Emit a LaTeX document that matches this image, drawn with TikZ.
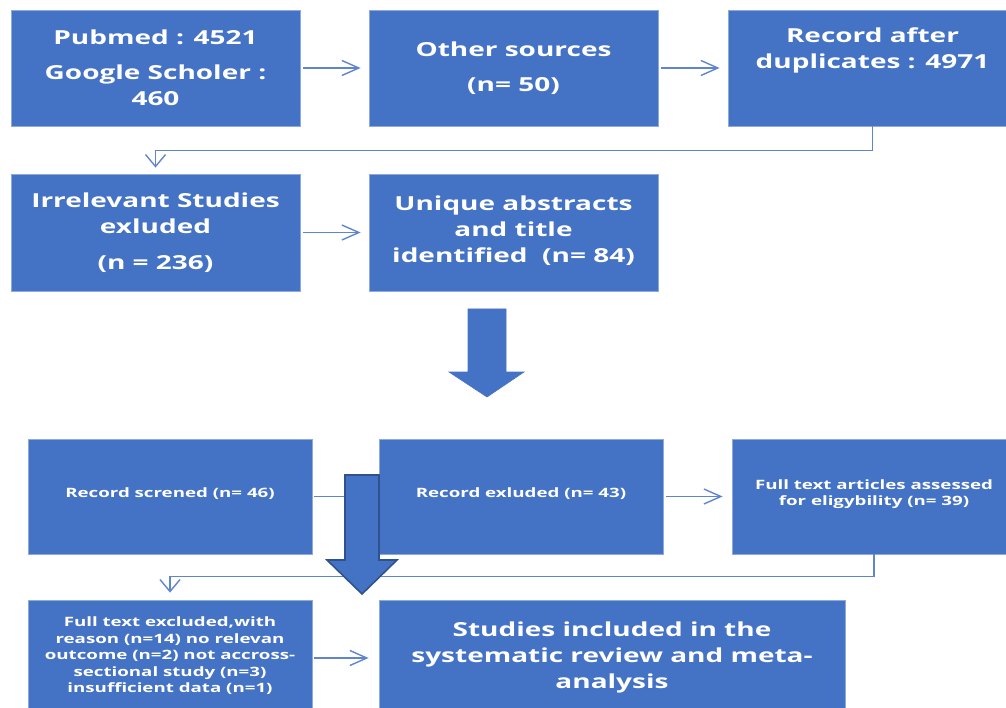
\documentclass[tikz,border=0pt]{standalone}
\usepackage{fontspec}
\usetikzlibrary{arrows.meta}
\newfontfamily\bx{Open Sans Bold}[FakeStretch=1.45]
\definecolor{boxblue}{HTML}{4472C4}
\definecolor{edgeblue}{HTML}{8EA9DB}
\definecolor{linkblue}{HTML}{5F86CC}
\definecolor{darkblue}{HTML}{2F528F}
\tikzset{
  boxstyle/.style={draw=edgeblue, fill=boxblue, line width=0.8pt, inner sep=0pt},
  bigtxt/.style={text=white, font=\bx\fontsize{19.3}{26}\selectfont, align=center, inner sep=0pt},
  smalltxt/.style={text=white, font=\bx\fontsize{12.9}{16.5}\selectfont, align=center, inner sep=0pt},
  harrow/.style={draw=linkblue, line width=1.4pt, -{Straight Barb[length=17pt,width=15pt,line width=1.4pt]}},
  varrow/.style={draw=linkblue, line width=1.4pt, -{Straight Barb[length=12pt,width=20pt,line width=1.4pt]}},
  blockarrow/.style={fill=boxblue, draw=boxblue, line width=0.6pt, line join=miter},
  blockarrowdark/.style={fill=boxblue, draw=darkblue, line width=1.6pt, line join=miter}
}
\begin{document}
\begin{tikzpicture}[x=1pt,y=-1pt]
\useasboundingbox (0,0) rectangle (1006,708);
% boxes
\node[boxstyle, minimum width=289pt, minimum height=116pt] (A) at (155.5,68) {};
\node[boxstyle, minimum width=289pt, minimum height=116pt] (B) at (513.5,68) {};
\node[boxstyle, minimum width=289pt, minimum height=116pt] (C) at (872.5,68) {};
\node[boxstyle, minimum width=289pt, minimum height=117pt] (D) at (155.5,232.5) {};
\node[boxstyle, minimum width=289pt, minimum height=117pt] (E) at (513.5,232.5) {};
\node[boxstyle, minimum width=284pt, minimum height=115pt] (F) at (170,496.5) {};
\node[boxstyle, minimum width=284pt, minimum height=115pt] (G) at (521,496.5) {};
\node[boxstyle, minimum width=284pt, minimum height=115pt] (H) at (874,496.5) {};
\node[boxstyle, minimum width=284pt, minimum height=116pt] (I) at (170,658) {};
\node[boxstyle, minimum width=466pt, minimum height=116pt] (J) at (612,658) {};
% texts
\node[bigtxt] (tA) at (155.5,67.5) {Pubmed : 4521\\[9pt]Google Scholer :\\460};
\node[bigtxt] (tB) at (513.5,68) {Other sources\\[9pt](n= 50)};
\node[bigtxt] (tC) at (872.5,50) {Record after\\duplicates : 4971};
\node[bigtxt] (tD) at (155.5,232.5) {Irrelevant Studies\\exluded\\[10pt](n = 236)};
\node[bigtxt] (tE) at (513.5,231) {Unique abstracts\\and title\\identified\ \ (n= 84)};
\node[smalltxt] (tF) at (170,494) {Record screned (n= 46)};
\node[smalltxt] (tG) at (521,494) {Record exluded (n= 43)};
\node[smalltxt] (tH) at (874,494) {Full text articles assessed\\for eligybility (n= 39)};
\node[smalltxt] (tI) at (170,656) {Full text excluded,with\\reason (n=14) no relevan\\outcome (n=2) not accross-\\sectional study (n=3)\\insufficient data (n=1)};
\node[bigtxt] (tJ) at (612,657) {Studies included in the\\systematic review and meta-\\analysis};
% connectors
\draw[harrow, shorten <=3pt, shorten >=8pt] (A.east) -- (B.west);
\draw[harrow, shorten <=3pt, shorten >=8pt] (B.east) -- (C.west);
\draw[varrow, shorten >=6pt] (C.south) -- ++(0,24) -| (D.north);
\draw[harrow, shorten <=3pt, shorten >=8pt] (D.east) -- (E.west);
\draw[harrow, shorten <=2pt, shorten >=8pt] (F.east) -- (G.west);
\draw[harrow, shorten <=3pt, shorten >=9pt] (G.east) -- (H.west);
\draw[varrow, shorten >=7pt] (H.south) -- ++(0,22) -| (I.north);
\draw[harrow, shorten <=2pt, shorten >=10pt] (I.east) -- (J.west);
% block arrows
\draw[blockarrow] (468,309) -- (506,309) -- (506,372) -- (524,372) -- (487,397) -- (449,372) -- (468,372) -- cycle;
\draw[blockarrowdark] (345,475) -- (379,475) -- (379,560) -- (397,560) -- (362,594) -- (327,560) -- (345,560) -- cycle;
\end{tikzpicture}
\end{document}
